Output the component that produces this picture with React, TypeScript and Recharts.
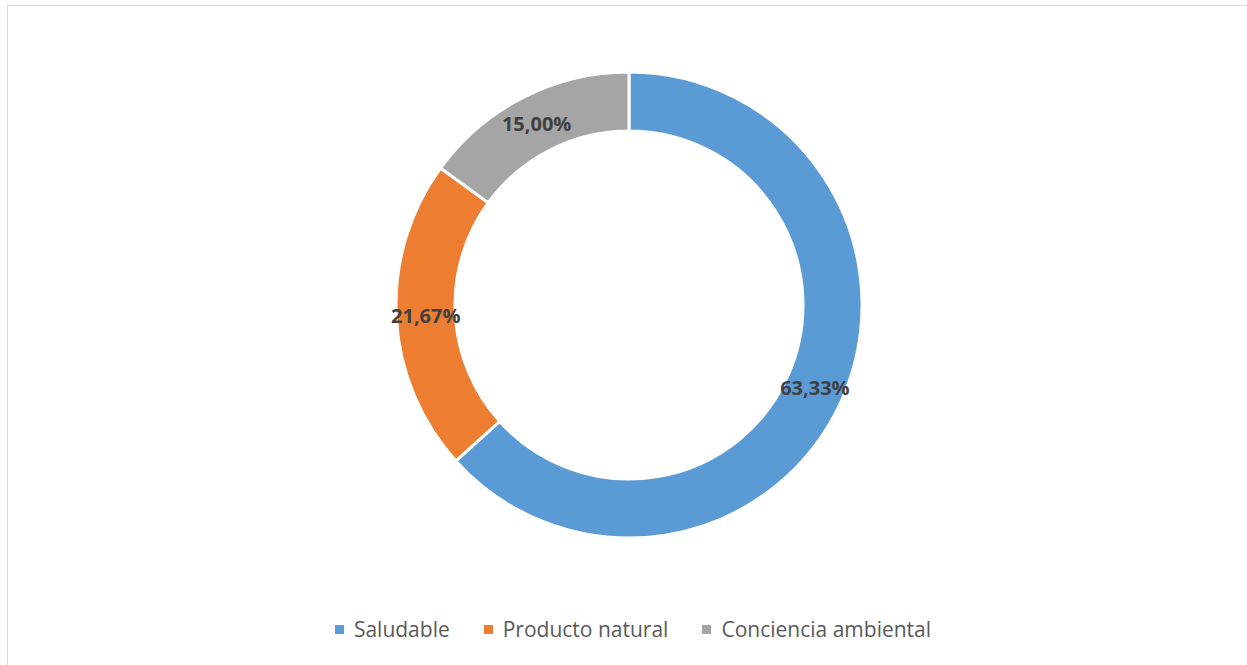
import { Cell, Legend, Pie, PieChart } from "recharts";

const categories = ["Saludable", "Producto natural", "Conciencia ambiental"];
const shares = [63.33, 21.67, 15.0];
const colors = ["#5B9BD5", "#ED7D31", "#A5A5A5"];

const data = categories.map((name, i) => ({ name, value: shares[i] }));

const FONT = "'Open Sans', 'Noto Sans', sans-serif";
const RADIAN = Math.PI / 180;

function formatPct(value: number): string {
  return value.toFixed(2).replace(".", ",") + "%";
}

// label sits in the middle of the ring, like Excel's "center" data labels
function renderLabel(props: any) {
  const { cx, cy, midAngle, innerRadius, outerRadius, value } = props;
  const r = (innerRadius + outerRadius) / 2;
  const x = cx + r * Math.cos(-midAngle * RADIAN);
  const y = cy + r * Math.sin(-midAngle * RADIAN);
  return (
    <text
      x={x}
      y={y}
      textAnchor="middle"
      dominantBaseline="central"
      fill="#404040"
      fontSize={20}
      fontWeight={700}
      fontFamily={FONT}
    >
      {formatPct(value)}
    </text>
  );
}

function LegendContent() {
  return (
    <div style={{ display: "flex", justifyContent: "center", gap: 34, fontFamily: FONT }}>
      {categories.map((name, i) => (
        <div key={name} style={{ display: "flex", alignItems: "center" }}>
          <span style={{ width: 9, height: 9, background: colors[i], marginRight: 10, display: "inline-block" }} />
          <span style={{ fontSize: 21, color: "#595959" }}>{name}</span>
        </div>
      ))}
    </div>
  );
}

export default function App() {
  return (
    <div style={{ position: "fixed", left: 0, top: 0, width: 1247, height: 665, overflow: "hidden", background: "#fff" }}>
      <div style={{ position: "absolute", left: 7, top: 5, width: 1260, height: 680, border: "1px solid #d9d9d9" }}>
        <PieChart width={1260} height={680}>
          <Pie
            data={data}
            dataKey="value"
            nameKey="name"
            cx={616}
            cy={294}
            outerRadius={233}
            innerRadius={174}
            startAngle={90}
            endAngle={-270}
            stroke="#ffffff"
            strokeWidth={3}
            label={renderLabel}
            labelLine={false}
            isAnimationActive={false}
          >
            {data.map((d, i) => (
              <Cell key={d.name} fill={colors[i]} />
            ))}
          </Pie>
          <Legend
            content={<LegendContent />}
            wrapperStyle={{ left: 0, top: 609, width: 1250 }}
          />
        </PieChart>
      </div>
    </div>
  );
}
